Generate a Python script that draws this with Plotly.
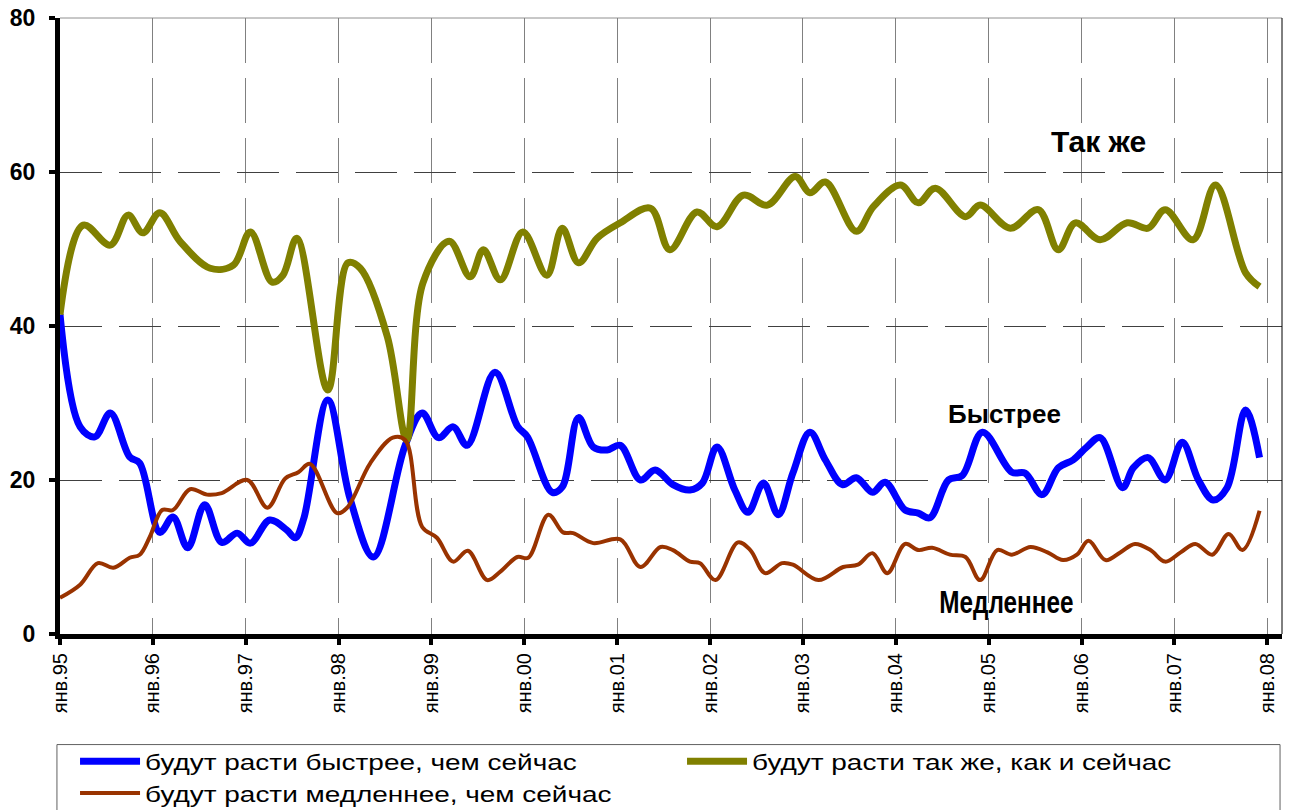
import plotly.graph_objects as go

# months since January 1995
tick_months = [0, 12, 24, 36, 48, 60, 72, 84, 96, 108, 120, 132, 144, 156]
tick_labels = ["янв.95", "янв.96", "янв.97", "янв.98", "янв.99", "янв.00", "янв.01",
               "янв.02", "янв.03", "янв.04", "янв.05", "янв.06", "янв.07", "янв.08"]
y_ticks = [0, 20, 40, 60, 80]

fast_months = [0, 2.6, 4.5, 6.5, 9.0, 10.3, 12.9, 14.6, 16.5, 18.7, 20.9, 22.9, 24.6, 27.1,
               29.3, 30.4, 31.5, 34.6, 37.5, 40.5, 44.6, 46.8, 48.9, 50.8, 52.6, 56.2, 59.1,
               60.4, 63.6, 64.9, 67.0, 68.9, 70.7, 72.4, 75.0, 76.9, 79.2, 81.4, 83.0, 84.9,
               87.2, 88.9, 90.9, 92.8, 94.7, 96.9, 98.9, 101.1, 102.9, 105.0, 106.6, 109.2,
               110.9, 112.4, 114.8, 116.6, 119.2, 123.0, 124.7, 126.9, 129.0, 130.9, 132.7,
               134.4, 137.3, 138.7, 140.6, 142.8, 145.0, 147.1, 149.0, 150.8, 153.2, 155.0]
fast = [41.5, 26.9, 25.6, 28.7, 23.0, 22.2, 13.2, 15.2, 11.2, 16.8, 11.9, 13.1, 11.8, 14.8,
        13.5, 12.5, 15.0, 30.4, 17.5, 10.0, 24.5, 28.7, 25.5, 26.9, 24.5, 34.0, 27.0,
        25.6, 18.4, 19.1, 28.1, 24.3, 23.9, 24.5, 20.0, 21.3, 19.4, 18.7, 19.6, 24.3,
        18.7, 15.8, 19.6, 15.5, 20.9, 26.2, 22.6, 19.4, 20.3, 18.4, 19.7, 16.1,
        15.7, 15.1, 20.0, 20.6, 26.2, 21.0, 20.9, 18.1, 21.6, 22.6, 24.3,
        25.5, 19.0, 21.6, 22.9, 20.0, 24.9, 20.0, 17.4, 19.0, 29.1, 22.9]

same_months = [0, 3.0, 6.5, 8.8, 10.7, 12.9, 15.5, 19.4, 22.4, 24.6, 27.4, 28.8, 30.6, 34.6,
               37.2, 38.8, 42.3, 44.8, 46.9, 50.3, 53.0, 54.7, 56.9, 59.8, 62.9, 64.9, 67.0,
               69.4, 72.4, 76.3, 78.8, 82.3, 84.9, 88.3, 91.4, 95.0, 96.9, 98.9, 102.9, 105.1,
               108.6, 110.9, 113.1, 117.0, 118.9, 122.8, 126.4, 129.0, 131.2, 134.4, 137.9,
               140.6, 142.8, 146.4, 149.3, 153.2, 155.0]
same = [41.5, 53.1, 50.5, 54.4, 52.1, 54.7, 51.0, 47.5, 47.9, 52.2, 45.7, 46.6, 51.4, 31.7,
        48.2, 47.5, 38.6, 25.2, 45.6, 51.0, 46.4, 49.9, 46.0, 52.2, 46.6, 52.7, 48.2,
        51.4, 53.4, 55.3, 49.9, 54.8, 52.9, 57.0, 55.7, 59.4, 57.3, 58.7, 52.3, 55.5,
        58.3, 56.0, 57.9, 54.2, 55.7, 52.7, 55.1, 49.9, 53.4, 51.2, 53.4,
        52.7, 55.1, 51.2, 58.3, 46.9, 45.1]

slow_months = [0, 2.6, 4.9, 6.9, 9.0, 10.3, 11.6, 13.2, 14.6, 16.8, 19.0, 20.9, 24.2, 26.8,
               29.1, 30.8, 32.3, 35.8, 37.1, 40.1, 43.0, 44.6, 46.8, 48.7, 50.8, 52.7, 55.2,
               56.9, 59.1, 60.5, 63.1, 65.0, 66.3, 68.9, 72.4, 75.0, 77.6, 79.2, 81.4, 82.7,
               84.7, 87.6, 89.2, 91.1, 93.3, 94.7, 98.0, 101.2, 103.1, 105.0, 106.9, 109.2,
               110.9, 112.7, 115.0, 117.0, 118.9, 121.1, 123.0, 125.4, 127.6, 129.6, 131.4,
               132.9, 135.1, 137.0, 138.9, 140.9, 142.8, 144.8, 146.7, 148.9, 151.0, 152.8, 155.0]
slow = [4.7, 6.4, 9.2, 8.6, 9.9, 10.3, 12.6, 16.1, 16.1, 18.8, 18.1, 18.3, 20.0, 16.4,
        20.2, 21.0, 22.1, 15.7, 16.4, 22.2, 25.5, 25.2, 13.9, 12.5, 9.4, 10.8, 7.0,
        8.1, 10.0, 9.9, 15.5, 13.2, 13.1, 11.8, 12.3, 8.7, 11.3, 10.9, 9.4, 9.2,
        7.0, 11.9, 10.9, 7.9, 9.2, 9.0, 7.0, 8.7, 9.0, 10.5, 7.9, 11.7,
        10.9, 11.2, 10.3, 10.0, 7.0, 10.9, 10.3, 11.3, 10.6, 9.6, 10.3,
        12.1, 9.6, 10.6, 11.7, 10.9, 9.4, 10.6, 11.7, 10.3, 13.0, 10.9, 16.0]

names = ["будут расти быстрее, чем сейчас",
         "будут расти так же, как и сейчас",
         "будут расти медленнее, чем сейчас"]

FONT = "Arial, Liberation Sans, sans-serif"

fig = go.Figure()
fig.add_trace(go.Scatter(x=fast_months, y=fast, name=names[0], mode="lines",
                         line=dict(color="#0000FF", width=7, shape="spline", smoothing=1.0)))
fig.add_trace(go.Scatter(x=same_months, y=same, name=names[1], mode="lines",
                         line=dict(color="#808000", width=7, shape="spline", smoothing=1.0)))
fig.add_trace(go.Scatter(x=slow_months, y=slow, name=names[2], mode="lines",
                         line=dict(color="#993300", width=4, shape="spline", smoothing=1.0)))

# plot area: x 60..1282, y 18..634
fig.update_layout(
    width=1292, height=810,
    margin=dict(l=60, r=10, t=18, b=176, autoexpand=False),
    plot_bgcolor="white", paper_bgcolor="white",
    font=dict(family=FONT, color="black"),
    showlegend=True,
    legend=dict(orientation="h", x=0.0123, xanchor="left", y=-0.173, yanchor="top",
                borderwidth=0, bgcolor="rgba(0,0,0,0)",
                font=dict(family=FONT, size=22, color="black"),
                entrywidth=532, entrywidthmode="pixels", tracegroupgap=0,
                itemwidth=60),
    xaxis=dict(range=[0, 157.9], tickmode="array", tickvals=tick_months, ticktext=tick_labels,
               tickangle=-90, tickfont=dict(family=FONT, size=20, color="black"),
               showline=True, linecolor="black", linewidth=5, automargin=False,
               ticks="outside", ticklen=6, tickwidth=4, tickcolor="black",
               showgrid=True, gridcolor="#808080", gridwidth=1, griddash="45px,15px",
               zeroline=False),
    yaxis=dict(range=[0, 80], tickmode="array", tickvals=y_ticks,
               ticktext=["<b>%d</b>" % v for v in y_ticks],
               tickfont=dict(family=FONT, size=23, color="black"), ticklabelstandoff=9,
               showline=True, linecolor="black", linewidth=5, automargin=False,
               ticks="outside", ticklen=6, tickwidth=4, tickcolor="black",
               showgrid=True, gridcolor="#404040", gridwidth=1, griddash="42px,17px",
               zeroline=False),
    shapes=[
        dict(type="line", xref="paper", yref="paper", x0=1, x1=1, y0=0, y1=1,
             line=dict(color="black", width=1)),
        dict(type="line", xref="paper", yref="paper", x0=0, x1=1, y0=1, y1=1,
             line=dict(color="#909090", width=1), layer="below"),
        # legend frame
        dict(type="rect", xref="paper", yref="paper",
             x0=-0.0025, x1=0.9984, y0=-0.292, y1=-0.1795,
             line=dict(color="#606060", width=1), fillcolor="rgba(0,0,0,0)"),
    ],
    annotations=[
        dict(x=134.2, y=64.0, xref="x", yref="y", text="Так же", showarrow=False,
             font=dict(family=FONT, size=30, color="black", weight="bold")),
        dict(x=122.1, y=28.6, xref="x", yref="y", text="Быстрее", showarrow=False,
             font=dict(family=FONT, size=26, color="black", weight="bold")),
        dict(x=122.3, y=4.2, xref="x", yref="y", text="Медленнее", showarrow=False,
             font=dict(family=FONT, size=32, color="black", weight="bold")),
    ],
)

post = """
document.body.style.margin = '0';
document.body.style.overflow = 'hidden';
var gd = document.getElementById('{plot_id}');
gd.querySelectorAll('text.annotation-text').forEach(function(t){
  if (t.textContent.trim() === 'Медленнее') {
    var w = t.getComputedTextLength();
    t.setAttribute('lengthAdjust', 'spacingAndGlyphs');
    t.setAttribute('textLength', (w * 0.76).toFixed(1));
  }
});
gd.querySelectorAll('text.legendtext').forEach(function(t){
  var w = t.getComputedTextLength();
  t.setAttribute('lengthAdjust', 'spacingAndGlyphs');
  t.setAttribute('textLength', (w * 1.27).toFixed(1));
});
"""

fig.write_html("out.html", post_script=post, config={"displayModeBar": False})
